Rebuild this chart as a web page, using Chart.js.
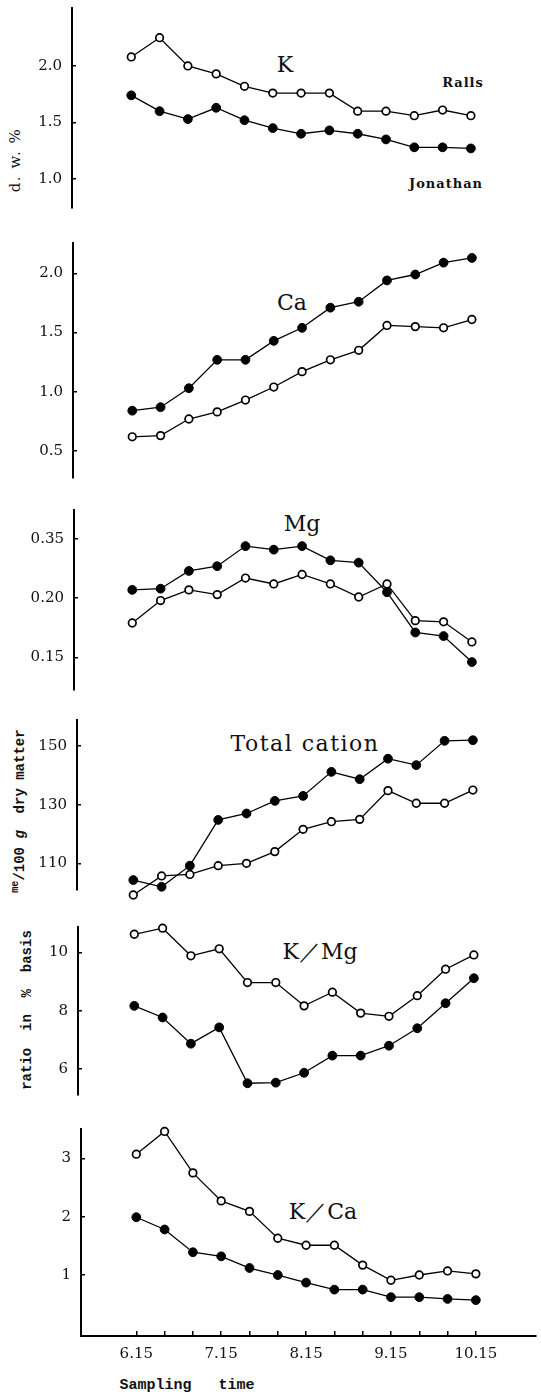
<!DOCTYPE html>
<html>
<head>
<meta charset="utf-8">
<script src="https://cdn.jsdelivr.net/npm/chart.js@4.4.1/dist/chart.umd.min.js"></script>
<style>
html, body { margin: 0; padding: 0; background: #fff; }
#wrap { position: relative; width: 541px; height: 1394px; overflow: hidden; background: #fff; }
#wrap canvas { position: absolute; left: 0; }
.lbl { position: absolute; transform: translate(-50%, -50%); white-space: pre; color: #111; }
.title { font-family: "DejaVu Serif", serif; font-size: 22px; }
.name { font-family: "DejaVu Serif", serif; font-weight: bold; font-size: 13px; letter-spacing: 1px; }
.axt { font-family: "Liberation Mono", monospace; font-weight: bold; font-size: 14px; }
.rot { transform: translate(-50%, -50%) rotate(-90deg); }
</style>
</head>
<body>
<div id="wrap">
  <div class="lbl title" style="left:285px;top:64px">K</div>
  <div class="lbl name" style="left:463px;top:82px">Ralls</div>
  <div class="lbl name" style="left:446px;top:183px">Jonathan</div>
  <div class="lbl title" style="left:292px;top:302px">Ca</div>
  <div class="lbl title" style="left:302px;top:523px">Mg</div>
  <div class="lbl title" style="left:305px;top:743px;letter-spacing:1.5px">Total cation</div>
  <div class="lbl title" style="left:320px;top:952px">K／Mg</div>
  <div class="lbl title" style="left:323px;top:1212px">K／Ca</div>
  <div class="lbl rot" style="left:15px;top:160px;font-family:'DejaVu Serif',serif;font-size:15px;letter-spacing:1.5px">d. w. %</div>
  <div class="lbl rot axt" style="left:19px;top:811px"><sup style="font-size:10px">me</sup>/100 <i>g</i>  dry matter</div>
  <div class="lbl rot axt" style="left:27px;top:1010px">ratio  in  %  basis</div>
  <div class="lbl axt" style="left:187px;top:1385px;font-size:15px">Sampling   time</div>
</div>
<script>
// sampling times, one every ~10 days from 6.15 to 10.15
const X_TICK_LABELS = ['6.15', '', '', '7.15', '', '', '8.15', '', '', '9.15', '', '', '10.15'];

// Ralls = open circles, Jonathan = filled circles
const K_RALLS = [2.08, 2.25, 2.00, 1.93, 1.82, 1.76, 1.76, 1.76, 1.60, 1.60, 1.56, 1.61, 1.56];
const K_JONATHAN = [1.74, 1.60, 1.53, 1.63, 1.52, 1.45, 1.40, 1.43, 1.40, 1.35, 1.28, 1.28, 1.27];
const K_TICKS = [1.0, 1.5, 2.0];
const K_TICK_LABELS = ['1.0', '1.5', '2.0'];

const CA_RALLS = [0.62, 0.63, 0.77, 0.83, 0.93, 1.04, 1.17, 1.27, 1.35, 1.56, 1.55, 1.54, 1.61];
const CA_JONATHAN = [0.84, 0.87, 1.03, 1.27, 1.27, 1.43, 1.54, 1.71, 1.76, 1.94, 1.99, 2.09, 2.13];
const CA_TICKS = [0.5, 1.0, 1.5, 2.0];
const CA_TICK_LABELS = ['0.5', '1.0', '1.5', '2.0'];

const MG_RALLS = [0.179, 0.198, 0.207, 0.203, 0.217, 0.212, 0.220, 0.212, 0.201, 0.212, 0.181, 0.180, 0.163];
const MG_JONATHAN = [0.207, 0.208, 0.223, 0.227, 0.244, 0.241, 0.244, 0.232, 0.230, 0.205, 0.171, 0.168, 0.146];
const MG_TICKS = [0.15, 0.20, 0.25];
const MG_TICK_LABELS = ['0.15', '0.20', '0.35']; // as printed

const TC_RALLS = [99.2, 105.7, 106.2, 109.2, 110.0, 114.0, 121.6, 124.2, 125.0, 134.8, 130.5, 130.5, 135.0];
const TC_JONATHAN = [104.3, 102.0, 109.2, 124.8, 127.0, 131.3, 133.0, 141.2, 138.7, 145.7, 143.5, 151.8, 152.0];
const TC_TICKS = [110, 130, 150];
const TC_TICK_LABELS = ['110', '130', '150'];

const KMG_RALLS = [10.63, 10.84, 9.89, 10.13, 8.97, 8.97, 8.17, 8.64, 7.92, 7.81, 8.52, 9.43, 9.92];
const KMG_JONATHAN = [8.17, 7.77, 6.87, 7.43, 5.51, 5.53, 5.87, 6.46, 6.46, 6.80, 7.40, 8.26, 9.12];
const KMG_TICKS = [6, 8, 10];
const KMG_TICK_LABELS = ['6', '8', '10'];

const KCA_RALLS = [3.07, 3.46, 2.75, 2.27, 2.09, 1.63, 1.51, 1.51, 1.17, 0.91, 1.00, 1.07, 1.02];
const KCA_JONATHAN = [1.99, 1.78, 1.39, 1.32, 1.12, 1.00, 0.87, 0.75, 0.75, 0.62, 0.62, 0.59, 0.57];
const KCA_TICKS = [1, 2, 3];
const KCA_TICK_LABELS = ['1', '2', '3'];

const W = 541;
const STEP = 28.65; // px between samples
const wrap = document.getElementById('wrap');

function series(values, open) {
    return {
        data: values.map((v, i) => ({ x: i, y: v })),
        borderColor: '#000',
        borderWidth: 1.3,
        pointRadius: open ? 3.8 : 4.4,
        pointBackgroundColor: open ? '#fff' : '#000',
        pointBorderColor: '#000',
        pointBorderWidth: open ? 1.7 : 1,
        tension: 0,
        clip: false,
    };
}

function makePanel(p) {
    const padTop = 10;
    const padBottom = p.showX ? 0 : 10;
    const xAxisH = p.showX ? 44 : 0;
    const canvas = document.createElement('canvas');
    canvas.width = W;
    canvas.height = (p.bottom - p.top) + padTop + padBottom + xAxisH;
    canvas.style.top = (p.top - padTop) + 'px';
    wrap.appendChild(canvas);

    const xmin = -(p.firstX - p.axisX) / STEP;
    const xmax = (W - p.firstX) / STEP;
    const tickFont = { family: 'DejaVu Serif', size: 15 };

    new Chart(canvas, {
        type: 'line',
        data: { datasets: [series(p.ralls, true), series(p.jonathan, false)] },
        options: {
            responsive: false,
            animation: false,
            layout: { padding: { top: padTop, bottom: padBottom, left: 0, right: 0 } },
            plugins: { legend: { display: false }, tooltip: { enabled: false } },
            scales: {
                x: {
                    type: 'linear',
                    display: !!p.showX,
                    min: xmin,
                    max: xmax,
                    afterBuildTicks: (s) => { s.ticks = X_TICK_LABELS.map((_, i) => ({ value: i })); },
                    afterFit: (s) => { s.height = xAxisH; s.paddingLeft = 0; s.paddingRight = 0; },
                    ticks: {
                        autoSkip: false, maxRotation: 0, padding: 14, color: '#111', font: tickFont,
                        callback: (v, i) => X_TICK_LABELS[i],
                    },
                    grid: { drawOnChartArea: false, tickLength: -5, color: '#000', lineWidth: 1.5 },
                    border: { color: '#000', width: 2 },
                },
                y: {
                    type: 'linear',
                    min: p.min,
                    max: p.max,
                    afterBuildTicks: (s) => { s.ticks = p.ticks.map((v) => ({ value: v })); },
                    afterFit: (s) => { s.width = p.axisX; s.paddingTop = 0; s.paddingBottom = 0; },
                    ticks: {
                        padding: 14, color: '#111', font: tickFont,
                        callback: (v, i) => p.labels[i],
                    },
                    grid: { drawOnChartArea: false, tickLength: -4, color: '#000', lineWidth: 1.5 },
                    border: { color: '#000', width: 2 },
                },
            },
        },
    });
}

makePanel({ top: 8, bottom: 208, axisX: 72, firstX: 132, min: 0.743, max: 2.513,
    ticks: K_TICKS, labels: K_TICK_LABELS, ralls: K_RALLS, jonathan: K_JONATHAN });
makePanel({ top: 243, bottom: 478, axisX: 73, firstX: 133, min: 0.272, max: 2.256,
    ticks: CA_TICKS, labels: CA_TICK_LABELS, ralls: CA_RALLS, jonathan: CA_JONATHAN });
makePanel({ top: 510, bottom: 690, axisX: 74, firstX: 133, min: 0.1224, max: 0.2745,
    ticks: MG_TICKS, labels: MG_TICK_LABELS, ralls: MG_RALLS, jonathan: MG_JONATHAN });
makePanel({ top: 720, bottom: 890, axisX: 77, firstX: 134, min: 100.9, max: 158.9,
    ticks: TC_TICKS, labels: TC_TICK_LABELS, ralls: TC_RALLS, jonathan: TC_JONATHAN });
makePanel({ top: 927, bottom: 1095, axisX: 78, firstX: 135, min: 5.106, max: 10.88,
    ticks: KMG_TICKS, labels: KMG_TICK_LABELS, ralls: KMG_RALLS, jonathan: KMG_JONATHAN });
makePanel({ top: 1129, bottom: 1336, axisX: 81, firstX: 137, min: -0.045, max: 3.502, showX: true,
    ticks: KCA_TICKS, labels: KCA_TICK_LABELS, ralls: KCA_RALLS, jonathan: KCA_JONATHAN });
</script>
</body>
</html>
